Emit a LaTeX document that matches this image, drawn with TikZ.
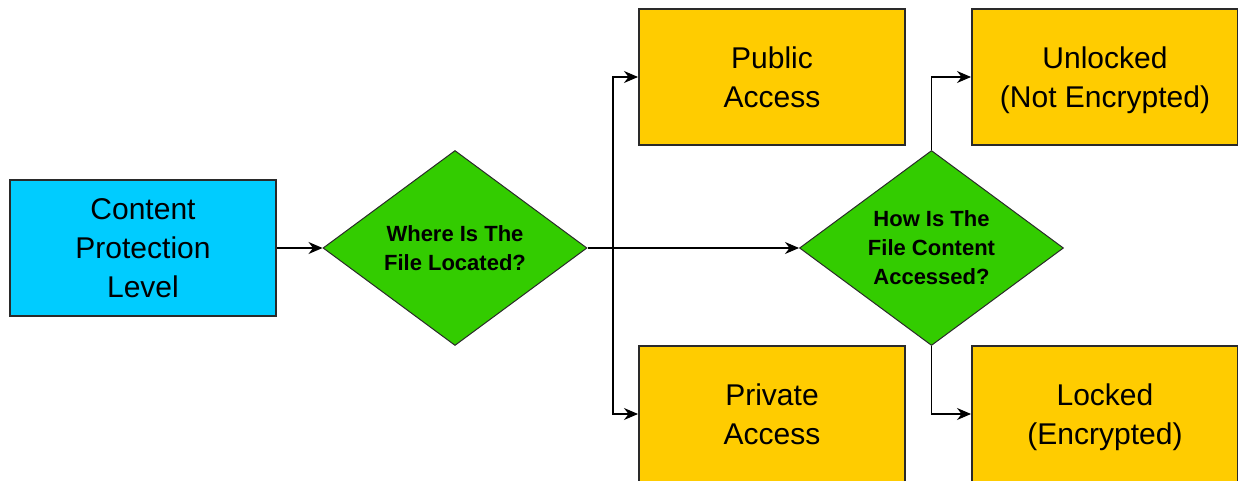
\documentclass[tikz,border=0pt]{standalone}
\usepackage{fontspec}
\setmainfont{Liberation Sans}
\usetikzlibrary{shapes.geometric,arrows.meta}
\definecolor{cblue}{HTML}{00CCFF}
\definecolor{cgreen}{HTML}{33CC00}
\definecolor{cgold}{HTML}{FFCC00}
\definecolor{cedge}{HTML}{2A2A2A}
\tikzset{
  box/.style={draw=cedge, line width=1pt, minimum width=133pt, minimum height=68pt,
    inner sep=0pt, align=center, text depth=0pt, font=\fontsize{15pt}{19.5pt}\selectfont},
  bluebox/.style={box, fill=cblue},
  goldbox/.style={box, fill=cgold},
  decision/.style={diamond, draw=cedge, line width=0.5pt, fill=cgreen, aspect=1.35,
    minimum width=132pt, minimum height=97.5pt, inner sep=0pt, align=center,
    font=\fontsize{11pt}{14.5pt}\selectfont\bfseries},
  conn/.style={draw=black, line width=0.6pt, -{Stealth[length=7pt,width=6pt]}},
  plain/.style={draw=black, line width=0.6pt}
}
\begin{document}
\begin{tikzpicture}[x=0.5pt,y=-0.5pt]
\useasboundingbox (0,0) rectangle (1238,481);
\node[bluebox] (cpl) at (143,248) {Content\\Protection\\Level};
\node[decision] (d1) at (455,248) {Where Is The\\File Located?};
\node[goldbox] (pub) at (772,77) {Public\\Access};
\node[goldbox] (priv) at (772,414) {Private\\Access};
\node[decision] (d2) at (931.5,248) {How Is The\\File Content\\Accessed?};
\node[goldbox] (unl) at (1105,77) {Unlocked\\(Not Encrypted)};
\node[goldbox] (lock) at (1105,414) {Locked\\(Encrypted)};
\coordinate (b1) at (613,248);
\draw[conn] (cpl.east) -- (d1.west);
\draw[plain] (d1.east) -- (b1);
\draw[conn] (b1) |- (pub.west);
\draw[conn] (b1) |- (priv.west);
\draw[conn] (b1) -- (d2.west);
\draw[conn] (d2.north) |- (unl.west);
\draw[conn] (d2.south) |- (lock.west);
\end{tikzpicture}
\end{document}
